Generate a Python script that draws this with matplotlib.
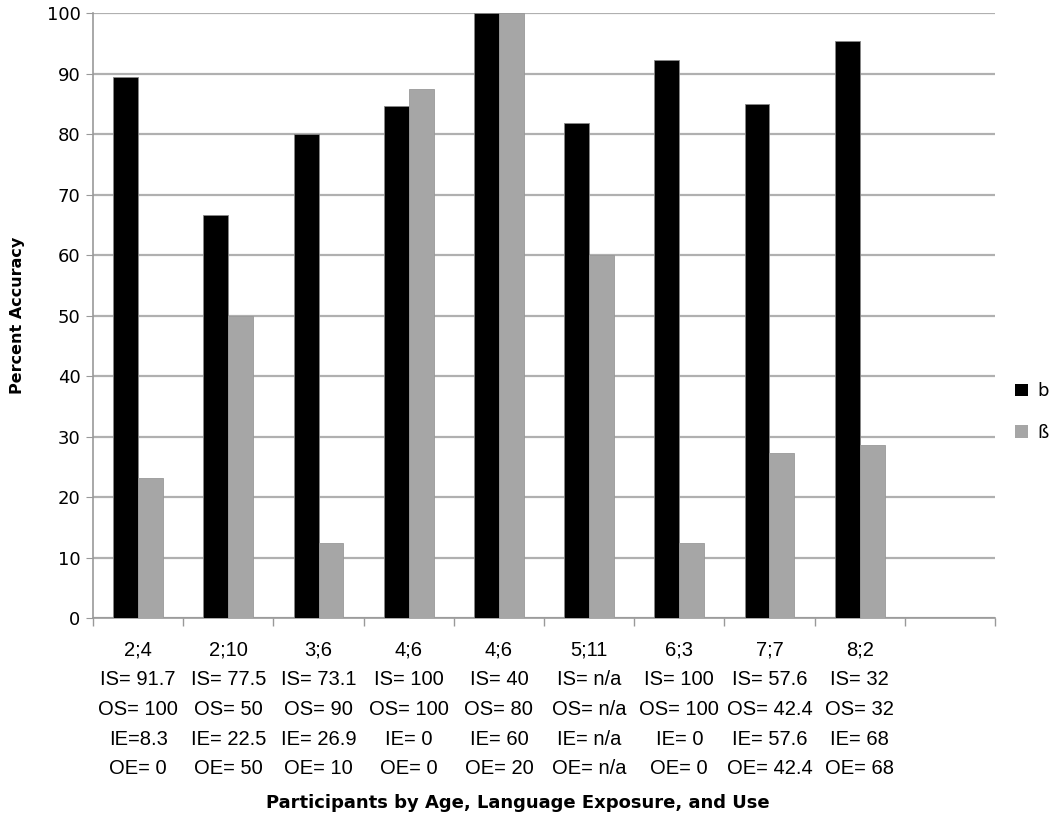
import matplotlib.pyplot as plt
import numpy as np
from matplotlib.patches import Patch

ages = ['2;4', '2;10', '3;6', '4;6', '4;6', '5;11', '6;3', '7;7', '8;2', '']
IS = ['91.7', '77.5', '73.1', '100', '40', 'n/a', '100', '57.6', '32']
OS = ['100', '50', '90', '100', '80', 'n/a', '100', '42.4', '32']
IE = ['8.3', '22.5', '26.9', '0', '60', 'n/a', '0', '57.6', '68']
OE = ['0', '50', '10', '0', '20', 'n/a', '0', '42.4', '68']

b_vals = [89.5, 66.7, 80.0, 84.6, 100, 81.8, 92.2, 85.0, 95.3]
ss_vals = [23.1, 50.0, 12.4, 87.4, 100, 60.0, 12.4, 27.3, 28.6]

labels = []
for i, a in enumerate(ages):
    if a == '':
        labels.append('')
        continue
    ie = 'IE=' + IE[i] if i == 0 else 'IE= ' + IE[i]
    labels.append('\n'.join([a, 'IS= ' + IS[i], 'OS= ' + OS[i], ie, 'OE= ' + OE[i]]))

fig = plt.figure(figsize=(10.5, 8.16), dpi=100)
ax = fig.add_axes([0.0886, 0.2426, 0.8590, 0.7414])

x = np.arange(len(ages))
w = 0.276
ax.bar(x[:len(b_vals)] - w / 2, b_vals, w, color='black', edgecolor='#888888', linewidth=0.6, zorder=3)
ax.bar(x[:len(ss_vals)] + w / 2, ss_vals, w, color='#a6a6a6', edgecolor='#999999', linewidth=0.6, zorder=3)

ax.set_xlim(-0.5, len(ages) - 0.5)
ax.set_ylim(0, 100)
ax.set_yticks(np.arange(0, 101, 10))
ax.yaxis.grid(True, color='#b0b0b0', linewidth=1.6, zorder=0)
ax.tick_params(axis='y', labelsize=13, length=5, color='#999999', pad=4)

ax.set_xticks(x)
ax.set_xticklabels(labels, fontsize=14.5, family='Liberation Sans', linespacing=1.72)
ax.tick_params(axis='x', which='major', length=0, pad=16)
ax.set_xticks(np.arange(-0.5, len(ages)), minor=True)
ax.tick_params(axis='x', which='minor', length=6, color='#999999', width=1)

for s in ['top', 'right']:
    ax.spines[s].set_visible(False)
ax.spines['left'].set_color('#999999')
ax.spines['bottom'].set_color('#999999')
ax.spines['left'].set_linewidth(1.2)
ax.spines['bottom'].set_linewidth(1.2)

fig.text(0.017, 0.614, 'Percent Accuracy', rotation=90, ha='center', va='center',
         fontsize=11.5, fontweight='bold')
fig.text(0.493, 0.016, 'Participants by Age, Language Exposure, and Use', ha='center', va='center',
         fontsize=13, fontweight='bold')

handles = [Patch(facecolor='black', label='b'), Patch(facecolor='#a6a6a6', label='ß')]
fig.legend(handles=handles, loc='center left', bbox_to_anchor=(0.967, 0.495), frameon=False,
           borderpad=0, borderaxespad=0,
           fontsize=13, handlelength=0.7, handleheight=0.7, handletextpad=0.5, labelspacing=1.3)

fig.savefig('out.png', dpi=100)
